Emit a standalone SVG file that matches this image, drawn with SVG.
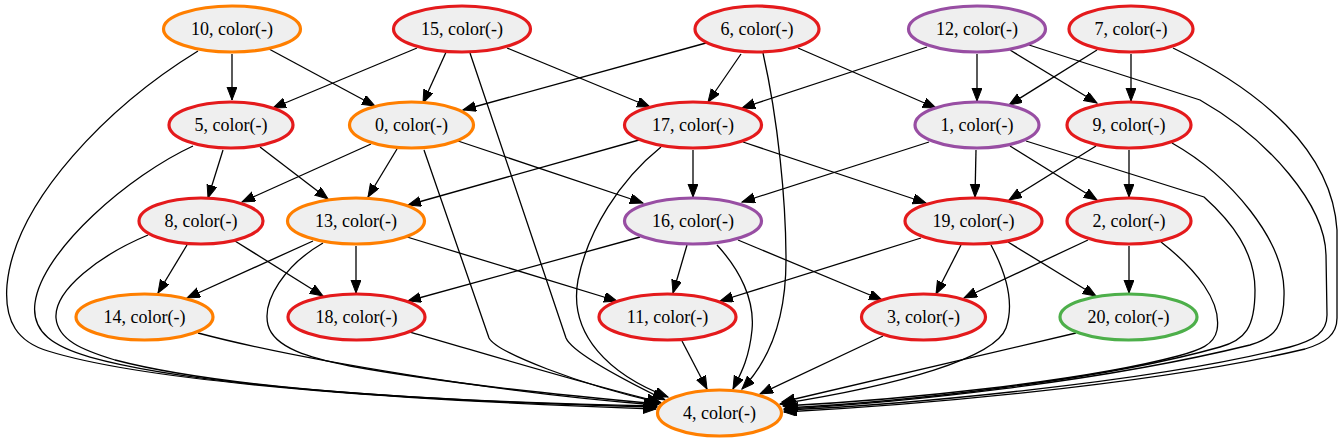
<svg xmlns="http://www.w3.org/2000/svg" width="1344" height="443" viewBox="0 0 1344 443">
<style>
.node ellipse{fill:#efefef;stroke-width:3.2}
.r ellipse{stroke:#e41a1c}
.o ellipse{stroke:#ff7f00}
.p ellipse{stroke:#984ea3}
.g ellipse{stroke:#4daf4a}
.node text{font-family:"Liberation Serif","Times New Roman",serif;font-size:18px;text-anchor:middle;fill:#000}
#edges path{fill:none;stroke:#000;stroke-width:1.3;marker-end:url(#arr)}
</style>
<defs>
<marker id="arr" markerUnits="userSpaceOnUse" markerWidth="15" markerHeight="11" refX="13" refY="5" orient="auto">
<path d="M0,0 L13,5 L0,10 z" fill="#000" stroke="#000" stroke-width="1"/>
</marker>
</defs>
<rect width="1344" height="443" fill="#fff"/>
<g id="edges">
<path d="M232,54 L232,100"/>
<path d="M269,49 L375,106"/>
<path d="M198,51 C110,105 15,200 7,285 C4,322 18,342 48,351 C160,386 450,402 656,409"/>
<path d="M417,48 L273,108"/>
<path d="M447,50 L423,103"/>
<path d="M507,48 L650,107"/>
<path d="M470,53 L566,338 C572,352 620,378 665,400"/>
<path d="M424,150 L489,338 C496,352 580,385 661,403"/>
<path d="M661,147 C620,180 588,230 578,280 C568,335 610,375 668,397"/>
<path d="M706,43 L463,110"/>
<path d="M741,54 L708,102"/>
<path d="M798,48 L936,108"/>
<path d="M763,53 C778,120 786,200 786,260 C786,325 765,365 742,389"/>
<path d="M927,47 L742,108"/>
<path d="M977,54 L977,101"/>
<path d="M1010,50 L1097,103"/>
<path d="M1029,45 L1200,100 C1270,140 1325,205 1326,255 L1327,315 C1327,332 1315,340 1290,347 C1150,383 900,405 784,410"/>
<path d="M1097,50 L1009,105"/>
<path d="M1131,54 L1131,101"/>
<path d="M1173,48 C1260,90 1332,150 1337,230 L1337,318 C1337,335 1325,343 1305,349 C1150,386 900,406 784,412"/>
<path d="M223,150 L208,198"/>
<path d="M260,147 L328,199"/>
<path d="M193,146 C130,175 42,250 35,303 C31,333 55,347 90,357 C200,388 450,402 657,407"/>
<path d="M371,144 L242,202"/>
<path d="M397,149 L368,197"/>
<path d="M458,141 L643,203"/>
<path d="M639,140 L408,205"/>
<path d="M693,150 L693,197"/>
<path d="M743,142 L926,203"/>
<path d="M929,142 L742,202"/>
<path d="M976,150 L975,197"/>
<path d="M1010,146 L1097,200"/>
<path d="M1026,141 L1204,197 C1232,222 1255,252 1255,290 C1255,328 1245,340 1220,347 C1100,381 900,402 785,408"/>
<path d="M1096,146 L1009,200"/>
<path d="M1129,150 L1129,197"/>
<path d="M1172,143 C1232,177 1283,240 1284,290 C1285,326 1275,338 1250,345 C1100,382 900,403 784,409"/>
<path d="M187,245 L158,293"/>
<path d="M235,241 L323,296"/>
<path d="M148,235 C100,255 54,290 56,318 C58,340 82,350 115,360 C230,390 450,402 657,406"/>
<path d="M313,241 L187,298"/>
<path d="M356,246 L356,293"/>
<path d="M407,237 L617,301"/>
<path d="M323,243 C285,265 262,300 268,325 C274,348 310,358 350,366 C450,384 560,395 659,404"/>
<path d="M640,237 L408,301"/>
<path d="M687,245 L673,293"/>
<path d="M738,240 L882,300"/>
<path d="M717,245 C740,270 755,300 752,330 C749,360 740,375 733,389"/>
<path d="M921,238 L720,301"/>
<path d="M961,245 L936,294"/>
<path d="M1008,242 L1096,296"/>
<path d="M991,245 C1007,275 1014,305 1006,328 C995,358 900,385 780,404"/>
<path d="M1088,240 L964,298"/>
<path d="M1129,246 L1129,293"/>
<path d="M1161,242 C1197,270 1222,302 1217,330 C1214,345 1200,350 1178,356 C1080,382 900,400 783,406"/>
<path d="M198,333 C300,360 500,393 657,405"/>
<path d="M410,332 C480,352 580,383 660,402"/>
<path d="M682,341 L707,389"/>
<path d="M883,336 L760,394"/>
<path d="M1076,333 L782,402"/>
</g>
<g id="n10" class="node o"><ellipse cx="232" cy="29" rx="68.5" ry="23"/><text x="232" y="35">10, color(-)</text></g>
<g id="n15" class="node r"><ellipse cx="462" cy="29" rx="68.5" ry="23"/><text x="462" y="35">15, color(-)</text></g>
<g id="n6" class="node r"><ellipse cx="757" cy="29" rx="62" ry="23"/><text x="757" y="35">6, color(-)</text></g>
<g id="n12" class="node p"><ellipse cx="977" cy="29" rx="68.5" ry="23"/><text x="977" y="35">12, color(-)</text></g>
<g id="n7" class="node r"><ellipse cx="1131" cy="29" rx="62" ry="23"/><text x="1131" y="35">7, color(-)</text></g>
<g id="n5" class="node r"><ellipse cx="231" cy="125" rx="62" ry="23"/><text x="231" y="131">5, color(-)</text></g>
<g id="n0" class="node o"><ellipse cx="411.5" cy="125" rx="62" ry="23"/><text x="411.5" y="131">0, color(-)</text></g>
<g id="n17" class="node r"><ellipse cx="693" cy="125" rx="68.5" ry="23"/><text x="693" y="131">17, color(-)</text></g>
<g id="n1" class="node p"><ellipse cx="977" cy="125" rx="62" ry="23"/><text x="977" y="131">1, color(-)</text></g>
<g id="n9" class="node r"><ellipse cx="1129" cy="125" rx="62" ry="23"/><text x="1129" y="131">9, color(-)</text></g>
<g id="n8" class="node r"><ellipse cx="201" cy="221" rx="62" ry="23"/><text x="201" y="227">8, color(-)</text></g>
<g id="n13" class="node o"><ellipse cx="356" cy="221" rx="68.5" ry="23"/><text x="356" y="227">13, color(-)</text></g>
<g id="n16" class="node p"><ellipse cx="693" cy="221" rx="68.5" ry="23"/><text x="693" y="227">16, color(-)</text></g>
<g id="n19" class="node r"><ellipse cx="973.5" cy="221" rx="68.5" ry="23"/><text x="973.5" y="227">19, color(-)</text></g>
<g id="n2" class="node r"><ellipse cx="1129" cy="221" rx="62" ry="23"/><text x="1129" y="227">2, color(-)</text></g>
<g id="n14" class="node o"><ellipse cx="144.5" cy="317" rx="68.5" ry="23"/><text x="144.5" y="323">14, color(-)</text></g>
<g id="n18" class="node r"><ellipse cx="356.5" cy="317" rx="68.5" ry="23"/><text x="356.5" y="323">18, color(-)</text></g>
<g id="n11" class="node r"><ellipse cx="667.5" cy="317" rx="68.5" ry="23"/><text x="667.5" y="323">11, color(-)</text></g>
<g id="n3" class="node r"><ellipse cx="923.5" cy="317" rx="62" ry="23"/><text x="923.5" y="323">3, color(-)</text></g>
<g id="n20" class="node g"><ellipse cx="1128.5" cy="317" rx="68.5" ry="23"/><text x="1128.5" y="323">20, color(-)</text></g>
<g id="n4" class="node o"><ellipse cx="719.5" cy="413" rx="62" ry="23"/><text x="719.5" y="419">4, color(-)</text></g>
</svg>
